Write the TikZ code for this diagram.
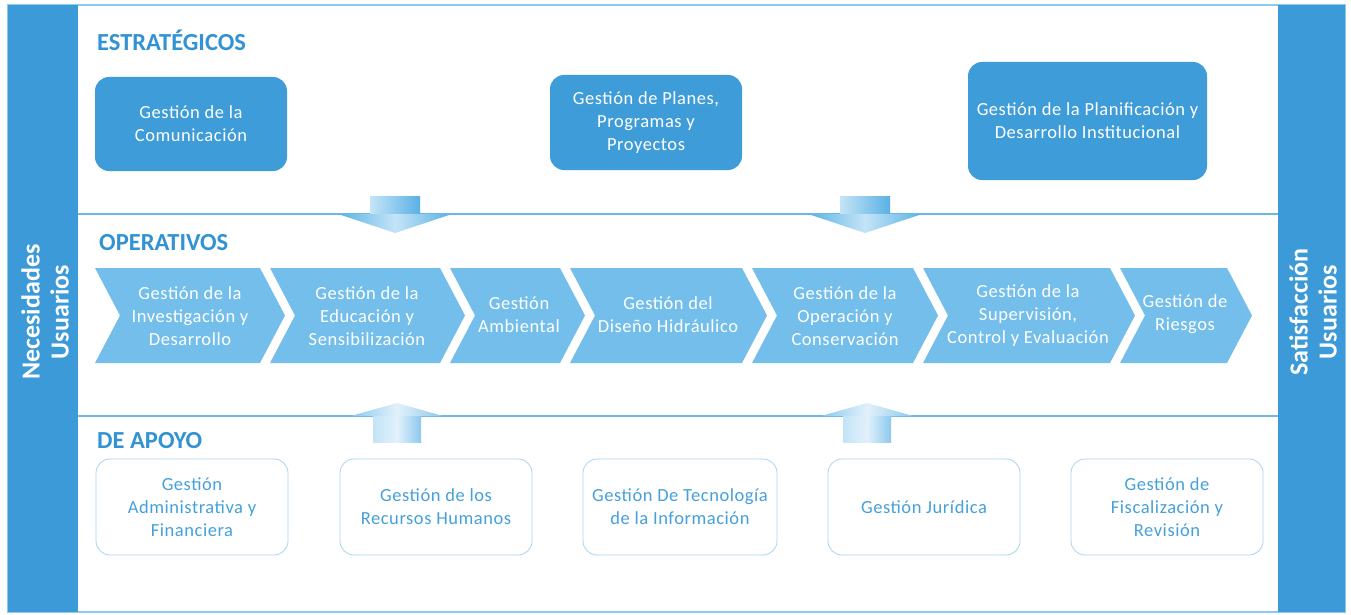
\documentclass[tikz,border=0pt]{standalone}
\usepackage{fontspec}
\setmainfont{Carlito}
\newfontfamily\dgspaced[LetterSpace=3]{Carlito}
\definecolor{barblue}{HTML}{3D9AD8}
\definecolor{boxblue}{HTML}{3E9CD9}
\definecolor{chevblue}{HTML}{74BEEB}
\definecolor{titleblue}{HTML}{3192D4}
\definecolor{linelight}{HTML}{6BBAE6}
\definecolor{framelight}{HTML}{8CCAEE}
\definecolor{apoyoline}{HTML}{A8D4EF}
\definecolor{apoyotext}{HTML}{45A0DB}
\definecolor{arrowmid}{HTML}{5AB1E5}
\definecolor{arrowlight}{HTML}{C4E4F7}
\definecolor{arrowpale}{HTML}{E2F1FB}
\newcommand\dgboxfont{\dgspaced\fontsize{18.5}{23}\selectfont}
\newcommand\dgtitlefont{\bfseries\fontsize{24.5}{28}\selectfont}
\newcommand\dgsidefont{\bfseries\fontsize{26}{29}\selectfont}
\newcommand\dgchev[2]{\fill[chevshape] (#1,268) -- (#2,268) -- (#2+25,315.5) -- (#2,363) -- (#1,363) -- (#1+25,315.5) -- cycle;}
\tikzset{
  sidebar/.style={fill=barblue},
  sidetext/.style={rotate=90, align=center, text=white, font=\dgsidefont},
  strat/.style={rounded corners=14pt, fill=boxblue, text=white, align=center, font=\dgboxfont, inner sep=0pt},
  apoyo/.style={rounded corners=14pt, draw=apoyoline, line width=0.8pt, fill=white, text=apoyotext, align=center, font=\dgboxfont, inner sep=0pt},
  sectitle/.style={text=titleblue, font=\dgtitlefont, anchor=base west, inner sep=0pt},
  chevtext/.style={text=white, align=center, font=\dgboxfont, inner sep=0pt},
  chevshape/.style={fill=chevblue},
  divider/.style={draw=linelight, line width=1.2pt}
}
\begin{document}
\begin{tikzpicture}[x=1pt,y=-1pt]
\useasboundingbox (0,0) rectangle (1351,615);
\fill[white] (0,0) rectangle (1351,615);
% frame
\draw[framelight, line width=1.5pt] (8,5) rectangle (1345,612);
\fill[sidebar] (8,5) rectangle (78,612);
\fill[sidebar] (1278,5) rectangle (1345,612);
\node[sidetext] (nec) at (45,312) {Necesidades\\Usuarios};
\node[sidetext] (sat) at (1313,312) {Satisfacción\\Usuarios};
% dividers
\draw[divider] (78,214) -- (1278,214);
\draw[divider] (78,416) -- (1278,416);
% titles
\node[sectitle] (t1) at (97,51) {ESTRATÉGICOS};
\node[sectitle] (t2) at (99,250) {OPERATIVOS};
\node[sectitle] (t3) at (97,448) {DE APOYO};
% strategic boxes
\node[strat, minimum width=192pt, minimum height=94pt] (s1) at (191,124) {Gestión de la\\Comunicación};
\node[strat, minimum width=192pt, minimum height=95pt] (s2) at (646,122.5) {Gestión de Planes,\\Programas y\\Proyectos};
\node[strat, minimum width=239pt, minimum height=118pt] (s3) at (1087.5,121) {Gestión de la Planificación y\\Desarrollo Institucional};
% down arrows
\foreach \cx in {395,865}{
  \shade[left color=arrowlight, right color=arrowmid] (\cx-25,196) rectangle (\cx+25,214);
  \shade[left color=arrowmid, right color=arrowmid, middle color=arrowlight] (\cx-57,214) -- (\cx+57,214) -- (\cx,233) -- cycle;
}
% chevrons
\dgchev{95}{260}
\dgchev{270}{440}
\dgchev{450}{560}
\dgchev{570}{742}
\dgchev{752}{913}
\dgchev{923}{1110}
\dgchev{1120}{1227}
\node[chevtext] (c1) at (190,316) {Gestión de la\\Investigación y\\Desarrollo};
\node[chevtext] (c2) at (367,316) {Gestión de  la\\Educación y\\Sensibilización};
\node[chevtext] (c3) at (519,314.5) {Gestión\\Ambiental};
\node[chevtext] (c4) at (668,314.5) {Gestión del\\Diseño Hidráulico};
\node[chevtext] (c5) at (845,316) {Gestión de la\\Operación y\\Conservación};
\node[chevtext] (c6) at (1028,316) {Gestión de la\\Supervisión,\\Control y Evaluación};
\node[chevtext] (c7) at (1185,314.5) {Gestión de\\Riesgos};
% up arrows
\foreach \cx in {397,867}{
  \shade[left color=arrowlight, right color=arrowmid!70, middle color=arrowpale] (\cx-24,416) rectangle (\cx+24,442);
  \shade[left color=arrowmid!70, right color=arrowmid!70, middle color=arrowpale] (\cx-46,416) -- (\cx+46,416) -- (\cx,403) -- cycle;
}
% support boxes
\node[apoyo, minimum width=192pt, minimum height=96pt] (a1) at (192,507) {Gestión\\Administrativa y\\Financiera};
\node[apoyo, minimum width=192pt, minimum height=96pt] (a2) at (436,507) {Gestión de los\\Recursos Humanos};
\node[apoyo, minimum width=194pt, minimum height=96pt] (a3) at (680,507) {Gestión De Tecnología\\de la Información};
\node[apoyo, minimum width=192pt, minimum height=96pt] (a4) at (924,507) {Gestión Jurídica};
\node[apoyo, minimum width=192pt, minimum height=96pt] (a5) at (1167,507) {Gestión de\\Fiscalización y\\Revisión};
\end{tikzpicture}
\end{document}
